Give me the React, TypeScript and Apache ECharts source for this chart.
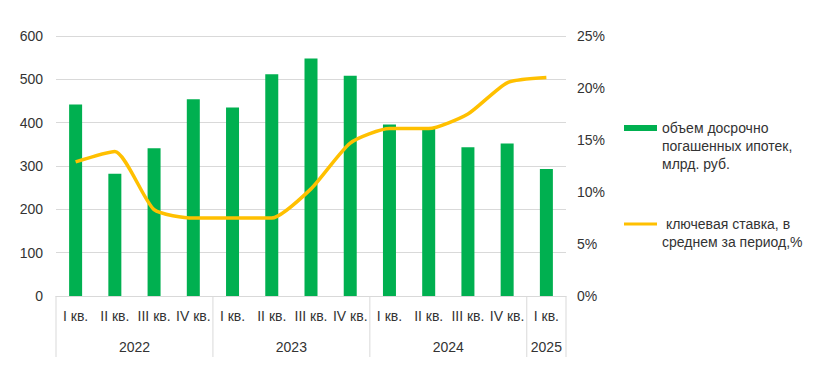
import React, { useEffect, useRef } from "react";
import * as echarts from "echarts";

const quarters = [
  "I кв.", "II кв.", "III кв.", "IV кв.",
  "I кв.", "II кв.", "III кв.", "IV кв.",
  "I кв.", "II кв.", "III кв.", "IV кв.",
  "I кв.",
];
const years = ["2022", "2023", "2024", "2025"];
const yearStart = [0, 4, 8, 12];
const yearEnd = [3, 7, 11, 12];
const prepaid = [442, 282, 341, 454, 435, 512, 548, 508, 396, 389, 343, 352, 293];
const keyRate = [12.9, 13.9, 8.3, 7.5, 7.5, 7.5, 10.3, 14.7, 16.1, 16.1, 17.5, 20.5, 21.0];
const barName = "объем досрочно\nпогашенных ипотек,\nмлрд. руб.";
const lineName = " ключевая ставка, в\nсреднем за период,%";

const FONT = '"Liberation Sans", Arial, sans-serif';
const TEXT = "#333333";
const GRIDC = "#d9d9d9";

// put the icon next to the first line: pad the multi-line label with empty lines above
const firstLineFormatter = (name: string) => {
  const n = name.split("\n").length;
  return "\n".repeat(n - 1) + name;
};

export default function App() {
  const ref = useRef<HTMLDivElement>(null);
  useEffect(() => {
    if (!ref.current) return;
    const chart = echarts.init(ref.current, null, { renderer: "svg" });
    const option: any = {
      animation: false,
      backgroundColor: "#ffffff",
      textStyle: { fontFamily: FONT },
      grid: { left: 56, right: 271, top: 36, bottom: 77 },
      xAxis: {
        type: "category",
        data: quarters,
        axisLine: { lineStyle: { color: GRIDC } },
        axisTick: { show: false },
        axisLabel: { interval: 0, color: TEXT, fontSize: 14, fontFamily: FONT, margin: 13 },
      },
      yAxis: [
        {
          type: "value",
          min: 0,
          max: 600,
          interval: 100,
          axisLine: { show: false },
          axisTick: { show: false },
          splitLine: { lineStyle: { color: GRIDC } },
          axisLabel: { color: TEXT, fontSize: 14, fontFamily: FONT, margin: 13 },
        },
        {
          type: "value",
          min: 0,
          max: 25,
          interval: 5,
          position: "right",
          axisLine: { show: false },
          axisTick: { show: false },
          splitLine: { show: false },
          axisLabel: { color: TEXT, fontSize: 14, fontFamily: FONT, margin: 11, formatter: "{value}%" },
        },
      ],
      legend: [
        {
          data: [{ name: barName, icon: "rect" }],
          left: 624,
          top: 83,
          orient: "vertical",
          padding: 0,
          itemWidth: 33,
          itemHeight: 6,
          formatter: firstLineFormatter,
          textStyle: { color: TEXT, fontSize: 14, fontFamily: FONT, lineHeight: 18 },
        },
        {
          data: [{ name: lineName, icon: "rect" }],
          left: 624,
          top: 197,
          orient: "vertical",
          padding: 0,
          itemWidth: 33,
          itemHeight: 3,
          formatter: firstLineFormatter,
          textStyle: { color: TEXT, fontSize: 14, fontFamily: FONT, lineHeight: 18 },
        },
      ],
      series: [
        {
          name: barName,
          type: "bar",
          data: prepaid,
          barWidth: 13,
          itemStyle: { color: "#00B050" },
        },
        {
          name: lineName,
          type: "line",
          yAxisIndex: 1,
          data: keyRate,
          symbol: "none",
          smooth: 0.2,
          lineStyle: { color: "#FFC000", width: 3.5 },
          itemStyle: { color: "#FFC000" },
        },
        {
          type: "custom",
          name: "years",
          data: yearStart.map((s, i) => [s, yearEnd[i], 0]),
          encode: { x: [0, 1], y: 2 },
          silent: true,
          renderItem: (params: any, api: any) => {
            const s = api.value(0);
            const e = api.value(1);
            const band = api.size([1, 0])[0];
            const p0 = api.coord([s, 0]);
            const p1 = api.coord([e, 0]);
            const x0 = p0[0] - band / 2;
            const x1 = p1[0] + band / 2;
            const y = p0[1];
            const children: any[] = [
              { type: "line", shape: { x1: x0, y1: y, x2: x0, y2: y + 61 }, style: { stroke: GRIDC, lineWidth: 1 } },
              {
                type: "text",
                style: {
                  text: years[params.dataIndex],
                  x: (x0 + x1) / 2,
                  y: y + 51,
                  align: "center",
                  verticalAlign: "middle",
                  fill: TEXT,
                  font: `14px ${FONT}`,
                },
              },
            ];
            if (params.dataIndex === years.length - 1) {
              children.push({ type: "line", shape: { x1: x1, y1: y, x2: x1, y2: y + 61 }, style: { stroke: GRIDC, lineWidth: 1 } });
            }
            return { type: "group", children };
          },
        },
      ],
    };
    chart.setOption(option);
    return () => chart.dispose();
  }, []);
  return (
    <div
      ref={ref}
      style={{ position: "absolute", left: 0, top: 0, width: 837, height: 373, background: "#fff" }}
    />
  );
}
